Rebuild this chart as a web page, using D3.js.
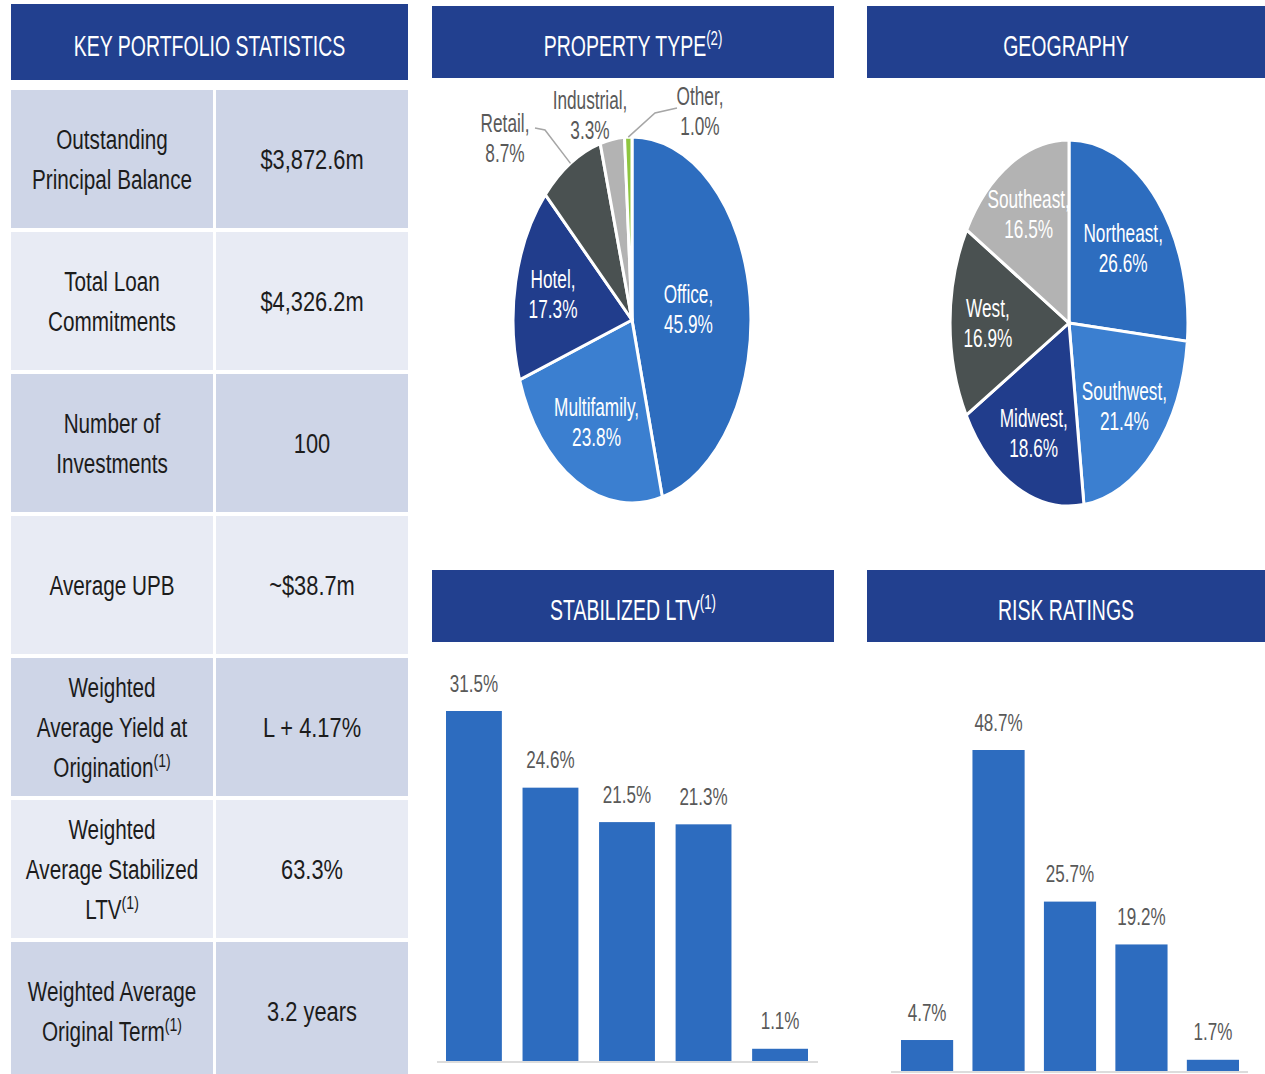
<!DOCTYPE html>
<html>
<head>
<meta charset="utf-8">
<script src="https://cdn.jsdelivr.net/npm/d3@7"></script>
<style>
  body { margin: 0; background: #fff; }
  svg { display: block; font-family: "Liberation Sans", Arial, sans-serif; }
</style>
</head>
<body>
<svg id="main-svg"></svg>
<script>
// --- Data ---
const statLabels = [
  ["Outstanding", "Principal Balance"],
  ["Total Loan", "Commitments"],
  ["Number of", "Investments"],
  ["Average UPB"],
  ["Weighted", "Average Yield at", "Origination"],
  ["Weighted", "Average Stabilized", "LTV"],
  ["Weighted Average", "Original Term"]
];
const statNotes = [null, null, null, null, "(1)", "(1)", "(1)"];
const statValues = ["$3,872.6m", "$4,326.2m", "100", "~$38.7m", "L + 4.17%", "63.3%", "3.2 years"];

const propertyTypes = ["Office", "Multifamily", "Hotel", "Retail", "Industrial", "Other"];
const propertyShares = [45.9, 23.8, 17.3, 8.7, 3.3, 1.0];

const regions = ["Northeast", "Southwest", "Midwest", "West", "Southeast"];
const regionShares = [26.6, 21.4, 18.6, 16.9, 16.5];

const ltvBuckets = ["b1", "b2", "b3", "b4", "b5"];   // bucket names cut off in the picture
const ltvValues = [31.5, 24.6, 21.5, 21.3, 1.1];

const riskCategories = ["1", "2", "3", "4", "5"];
const riskValues = [4.7, 48.7, 25.7, 19.2, 1.7];

// --- Setup ---
const width = 1265, height = 1074;
const SX = 0.65;              // the picture is squeezed horizontally
const NAVY = "#22408f";
const BLUE = "#2d6cbf";

const svg = d3.select("#main-svg").attr("width", width).attr("height", height);

// text block centred on (x, y), squeezed like the reference
function addText(parent, x, y, lines, o) {
  const g = parent.append("g").attr("transform", `translate(${x},${y}) scale(${o.sx || SX},1)`);
  const n = lines.length, lh = o.lh || o.size * 1.3;
  lines.forEach((ln, i) => {
    const t = g.append("text")
      .attr("y", (i - (n - 1) / 2) * lh + o.size * 0.36)
      .attr("text-anchor", o.anchor || "middle")
      .attr("font-size", o.size)
      .attr("fill", o.color);
    t.append("tspan").text(ln);
    if (i === n - 1 && o.sup) {
      t.append("tspan").attr("font-size", o.size * 0.68).attr("dy", -o.size * 0.36).text(o.sup);
    }
  });
  return g;
}

function header(x, y, w, h, title, sup) {
  svg.append("rect").attr("x", x).attr("y", y).attr("width", w).attr("height", h).attr("fill", NAVY);
  addText(svg, x + w / 2, y + h / 2 + 3, [title], {size: 30, color: "#fff", sup: sup});
}

// --- Table ---
header(11, 4, 397, 76, "KEY PORTFOLIO STATISTICS");
header(432, 6, 402, 72, "PROPERTY TYPE", "(2)");
header(867, 6, 398, 72, "GEOGRAPHY");
header(432, 570, 402, 72, "STABILIZED LTV", "(1)");
header(867, 570, 398, 72, "RISK RATINGS");

const rowTop = 90, rowStep = 142, rowH = 138;
statLabels.forEach((lines, i) => {
  const y0 = rowTop + i * rowStep;
  const fill = i % 2 === 0 ? "#ced5e7" : "#e8ebf4";
  svg.append("rect").attr("x", 11).attr("y", y0).attr("width", 202).attr("height", rowH).attr("fill", fill);
  svg.append("rect").attr("x", 216).attr("y", y0).attr("width", 192).attr("height", rowH).attr("fill", fill);
  const cy = y0 + rowH / 2;
  addText(svg, 112, cy, lines, {size: 28, lh: 40, sx: 0.74, color: "#1c1c1c", sup: statNotes[i]});
  addText(svg, 312, cy, [statValues[i]], {size: 28, sx: 0.78, color: "#1c1c1c"});
});

// --- Pies ---
function drawPie(names, shares, colors, cx, cy, outside) {
  const R = 183, k = 0.65;
  const arcs = d3.pie().sort(null).value(d => d)(shares);
  const arc = d3.arc().innerRadius(0).outerRadius(R);
  svg.append("g")
    .attr("transform", `translate(${cx},${cy}) scale(${k},1)`)
    .selectAll("path")
    .data(arcs)
    .enter().append("path")
    .attr("d", arc)
    .attr("fill", (d, i) => colors[i])
    .attr("stroke", "#fff")
    .attr("stroke-width", 3)
    .attr("vector-effect", "non-scaling-stroke");

  arcs.forEach((d, i) => {
    const a = (d.startAngle + d.endAngle) / 2;
    const lines = [names[i] + ",", shares[i].toFixed(1) + "%"];
    const o = outside[names[i]];
    if (o) {
      addText(svg, cx + o.dx, cy + o.dy, lines, {size: 25, lh: 30, sx: 0.69, color: "#595959"});
      if (o.from) {
        const edge = [cx + Math.sin(a) * R * k, cy - Math.cos(a) * R];
        svg.append("polyline")
          .attr("points", [[cx + o.from[0], cy + o.from[1]], [cx + o.elbow[0], cy + o.elbow[1]], edge].join(" "))
          .attr("fill", "none").attr("stroke", "#a6a6a6").attr("stroke-width", 1.5);
      }
    } else {
      const r = R * (0.8 - 0.7 * shares[i] / 100);
      addText(svg, cx + Math.sin(a) * r * k, cy - Math.cos(a) * r, lines, {size: 25, lh: 30, sx: 0.69, color: "#fff"});
    }
  });
}

drawPie(propertyTypes, propertyShares,
  ["#2d6dbf", "#3b7fd0", "#213d8c", "#4a5151", "#b3b3b3", "#8ec63f"],
  632, 320,
  {
    Retail: {dx: -127, dy: -182, from: [-97, -192], elbow: [-87, -190]},
    Industrial: {dx: -42, dy: -205},
    Other: {dx: 68, dy: -209, from: [45, -212], elbow: [23, -207]}
  });

drawPie(regions, regionShares,
  ["#2d6dbf", "#3b7fd0", "#213d8c", "#4a5151", "#b3b3b3"],
  1069, 323, {});

// --- Bars ---
function drawBars(keys, values, x0, x1, base, topOfMax, lineX0, lineX1) {
  const x = d3.scaleBand().domain(keys).range([x0, x1]).paddingInner(0.27).paddingOuter(0);
  const y = d3.scaleLinear().domain([0, d3.max(values)]).range([base, topOfMax]);
  const g = svg.append("g");
  g.append("line").attr("x1", lineX0).attr("x2", lineX1).attr("y1", base + 1).attr("y2", base + 1)
    .attr("stroke", "#d0d0d0").attr("stroke-width", 1.5);
  g.selectAll("rect")
    .data(values)
    .enter().append("rect")
    .attr("x", (d, i) => x(keys[i]))
    .attr("y", d => y(d))
    .attr("width", x.bandwidth())
    .attr("height", d => base - y(d))
    .attr("fill", BLUE);
  values.forEach((v, i) => {
    addText(g, x(keys[i]) + x.bandwidth() / 2, y(v) - 28, [v.toFixed(1) + "%"], {size: 24, sx: 0.71, color: "#595959"});
  });
}

drawBars(ltvBuckets, ltvValues, 446, 808, 1061, 711, 437, 818);
drawBars(riskCategories, riskValues, 901, 1239, 1071, 750, 891, 1248);
</script>
</body>
</html>
